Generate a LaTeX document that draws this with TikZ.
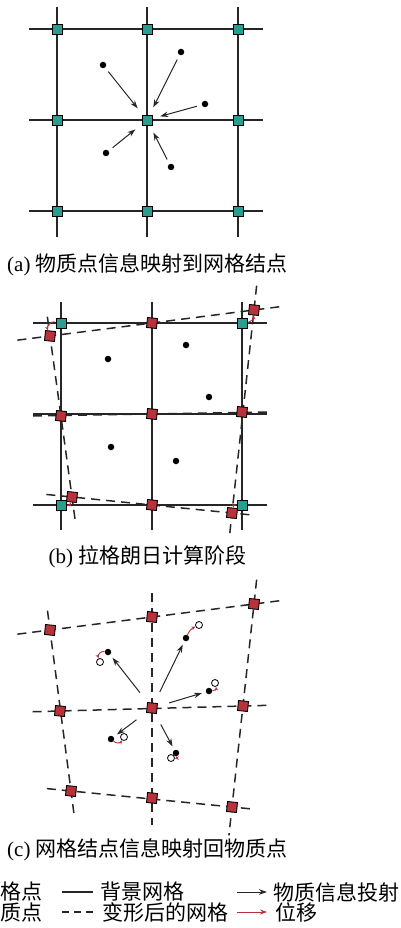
\documentclass[tikz,border=0pt]{standalone}
\usepackage{fontspec}
\setmainfont{Liberation Serif}
\newfontfamily\cjk{Noto Sans CJK SC}
\usepackage{tikz}
\usetikzlibrary{arrows.meta,calc}
\definecolor{GridTeal}{HTML}{2A9D8F}
\definecolor{MovedRed}{HTML}{B8323C}
\tikzset{
    % Background grid node
    gridnode/.style={
        draw=black,
        fill=GridTeal,
        line width=0.9pt,
        minimum size=10pt,
        inner sep=0pt
    },
    % Node of the deformed grid
    movednode/.style={
        gridnode,
        fill=MovedRed,
        rotate=-6
    },
    % Material point
    matpoint/.style={
        circle,
        fill=black,
        minimum size=6.5pt,
        inner sep=0pt
    },
    % Material point after the move
    newpoint/.style={
        circle,
        draw=black,
        fill=white,
        line width=0.8pt,
        minimum size=7pt,
        inner sep=0pt
    },
    % Background grid line
    bggrid/.style={
        line width=1.6pt,
        draw=black!85
    },
    % Deformed grid line
    defgrid/.style={
        line width=1.5pt,
        draw=black!85,
        dash pattern=on 9pt off 6pt
    },
    % Information arrow
    infoarrow/.style={
        -{Stealth[length=8pt,width=5.5pt]},
        line width=1pt,
        draw=black!85
    },
    % Displacement arrow
    disparrow/.style={
        -{Stealth[length=4pt,width=3.5pt]},
        line width=0.9pt,
        draw=MovedRed
    },
    % Caption and legend text
    captext/.style={
        inner sep=0pt,
        font=\fontsize{21}{24}\selectfont
    }
}
\begin{document}
\begin{tikzpicture}[x=1pt, y=-1pt]
        \useasboundingbox (0,0) rectangle (401,928);

        % ---- (a) background grid
        \draw[bggrid] (29,29) -- (263,29);
        \draw[bggrid] (29,120) -- (263,120);
        \draw[bggrid] (29,211) -- (263,211);
        \draw[bggrid] (57,7) -- (57,237);
        \draw[bggrid] (147,7) -- (147,237);
        \draw[bggrid] (238,7) -- (238,237);

        \node[gridnode] (a11) at (57,29) {};
        \node[gridnode] (a12) at (147,29) {};
        \node[gridnode] (a13) at (238,29) {};
        \node[gridnode] (a21) at (57,120) {};
        \node[gridnode] (a22) at (147,120) {};
        \node[gridnode] (a23) at (238,120) {};
        \node[gridnode] (a31) at (57,211) {};
        \node[gridnode] (a32) at (147,211) {};
        \node[gridnode] (a33) at (238,211) {};

        % Material points and mapping
        \node[matpoint] (pa1) at (103,65) {};
        \node[matpoint] (pa2) at (181,52) {};
        \node[matpoint] (pa3) at (205,104) {};
        \node[matpoint] (pa4) at (106,153) {};
        \node[matpoint] (pa5) at (171,167) {};
        \foreach \p in {pa1,pa2,pa3,pa4,pa5}
            \draw[infoarrow, shorten <=5pt, shorten >=8pt] (\p) -- (a22);

        \node[captext, anchor=west] (capa) at (7,265) {(a) {\cjk 物质点信息映射到网格结点}};

        % ---- (b) background grid
        \draw[bggrid] (33,323) -- (267,323);
        \draw[bggrid] (33,414) -- (267,414);
        \draw[bggrid] (33,505) -- (267,505);
        \draw[bggrid] (61,302) -- (61,530);
        \draw[bggrid] (152,302) -- (152,530);
        \draw[bggrid] (242,302) -- (242,530);

        % Deformed grid nodes
        \coordinate (b11) at (50,336);
        \coordinate (b12) at (152,323);
        \coordinate (b13) at (254,310);
        \coordinate (b21) at (61,416);
        \coordinate (b22) at (152,414);
        \coordinate (b23) at (242,412);
        \coordinate (b31) at (72,497);
        \coordinate (b32) at (152,505);
        \coordinate (b33) at (232,513);

        % Deformed grid
        \draw[defgrid] ($(b11)!-0.16!(b13)$) -- ($(b13)!-0.13!(b11)$);
        \draw[defgrid] (33,416) -- (268,412);
        \draw[defgrid] ($(b31)!-0.16!(b33)$) -- ($(b33)!-0.13!(b31)$);
        \draw[defgrid] ($(b11)!-0.12!(b31)$) -- ($(b31)!-0.14!(b11)$);
        \draw[defgrid] ($(b13)!-0.12!(b33)$) -- ($(b33)!-0.12!(b13)$);

        \node[gridnode] (g11) at (61,323) {};
        \node[gridnode] (g13) at (242,323) {};
        \node[gridnode] (g31) at (61,505) {};
        \node[gridnode] (g33) at (242,505) {};
        \node[movednode] (m11) at (b11) {};
        \node[movednode] (m12) at (b12) {};
        \node[movednode] (m13) at (b13) {};
        \node[movednode] (m21) at (b21) {};
        \node[movednode] (m22) at (b22) {};
        \node[movednode] (m23) at (b23) {};
        \node[movednode] (m31) at (b31) {};
        \node[movednode] (m32) at (b32) {};
        \node[movednode] (m33) at (b33) {};

        % Node displacement
        \draw[disparrow, shorten <=1pt] (g11) to[bend right=60] (m11);
        \draw[disparrow, shorten <=1pt] (g13) to[bend right=40] (m13);
        \draw[disparrow, shorten <=1pt] (g31) to[bend right=40] (m31);
        \draw[disparrow, shorten <=1pt] (g33) to[bend right=40] (m33);

        % Material points
        \node[matpoint] (pb1) at (108,359) {};
        \node[matpoint] (pb2) at (186,345) {};
        \node[matpoint] (pb3) at (209,397) {};
        \node[matpoint] (pb4) at (111,447) {};
        \node[matpoint] (pb5) at (176,461) {};

        \node[captext] (capb) at (147.5,557) {(b) {\cjk 拉格朗日计算阶段}};

        % ---- (c) deformed grid nodes
        \coordinate (c11) at (50,630);
        \coordinate (c12) at (152,617);
        \coordinate (c13) at (254,604);
        \coordinate (c21) at (60,711);
        \coordinate (c22) at (152,708);
        \coordinate (c23) at (243,706);
        \coordinate (c31) at (71,791);
        \coordinate (c32) at (152,798);
        \coordinate (c33) at (232,807);

        \draw[defgrid] ($(c11)!-0.16!(c13)$) -- ($(c13)!-0.14!(c11)$);
        \draw[defgrid] ($(c21)!-0.15!(c23)$) -- ($(c23)!-0.14!(c21)$);
        \draw[defgrid] ($(c31)!-0.15!(c33)$) -- ($(c33)!-0.14!(c31)$);
        \draw[defgrid] ($(c11)!-0.12!(c31)$) -- ($(c31)!-0.14!(c11)$);
        \draw[defgrid] ($(c12)!-0.13!(c32)$) -- ($(c32)!-0.15!(c12)$);
        \draw[defgrid] ($(c13)!-0.12!(c33)$) -- ($(c33)!-0.14!(c13)$);

        \node[movednode] (n11) at (c11) {};
        \node[movednode] (n12) at (c12) {};
        \node[movednode] (n13) at (c13) {};
        \node[movednode] (n21) at (c21) {};
        \node[movednode] (n22) at (c22) {};
        \node[movednode] (n23) at (c23) {};
        \node[movednode] (n31) at (c31) {};
        \node[movednode] (n32) at (c32) {};
        \node[movednode] (n33) at (c33) {};

        % Material points, old and new places
        \node[matpoint] (pc1) at (108,652) {};
        \node[matpoint] (pc2) at (186,638) {};
        \node[matpoint] (pc3) at (209,691) {};
        \node[matpoint] (pc4) at (111,739) {};
        \node[matpoint] (pc5) at (176,753) {};
        \node[newpoint] (qc1) at (100,662) {};
        \node[newpoint] (qc2) at (199,625) {};
        \node[newpoint] (qc3) at (215,683) {};
        \node[newpoint] (qc4) at (124,737) {};
        \node[newpoint] (qc5) at (171,758) {};

        % Mapping back
        \foreach \p in {pc1,pc2,pc3,pc4,pc5}
            \draw[infoarrow, shorten <=12pt, shorten >=4pt] (n22) -- (\p);

        % Point displacement
        \draw[disparrow] (pc1) to[bend right=60] (qc1);
        \draw[disparrow] (pc2) to[bend left=20] (qc2);
        \draw[disparrow] (pc3) to[bend right=50] (qc3);
        \draw[disparrow] (pc4) to[bend right=50] (qc4);
        \draw[disparrow] (pc5) to[bend left=50] (qc5);

        \node[captext, anchor=west] (capc) at (7,850) {(c) {\cjk 网格结点信息映射回物质点}};

        % ---- Legend
        \node[captext, anchor=west] (lg1) at (0,892) {\cjk 格点};
        \node[captext, anchor=west] (lg2) at (0,912) {\cjk 质点};
        \coordinate (ls1) at (62,892);
        \coordinate (le1) at (93,892);
        \coordinate (ls2) at (62,912);
        \coordinate (le2) at (95,912);
        \draw[bggrid] (ls1) -- (le1);
        \draw[line width=1.5pt, draw=black!85, dash pattern=on 7pt off 5pt] (ls2) -- (le2);
        \node[captext, anchor=west] (lg3) at (100,892) {\cjk 背景网格};
        \node[captext, anchor=west] (lg4) at (102,912) {\cjk 变形后的网格};
        \coordinate (ls3) at (237,892);
        \coordinate (le3) at (267,892);
        \coordinate (ls4) at (237,912);
        \coordinate (le4) at (267,912);
        \draw[infoarrow] (ls3) -- (le3);
        \draw[disparrow, -{Stealth[length=7pt,width=5pt]}] (ls4) -- (le4);
        \node[captext, anchor=west] (lg5) at (273,892) {\cjk 物质信息投射};
        \node[captext, anchor=west] (lg6) at (275,912) {\cjk 位移};
    \end{tikzpicture}
\end{document}
